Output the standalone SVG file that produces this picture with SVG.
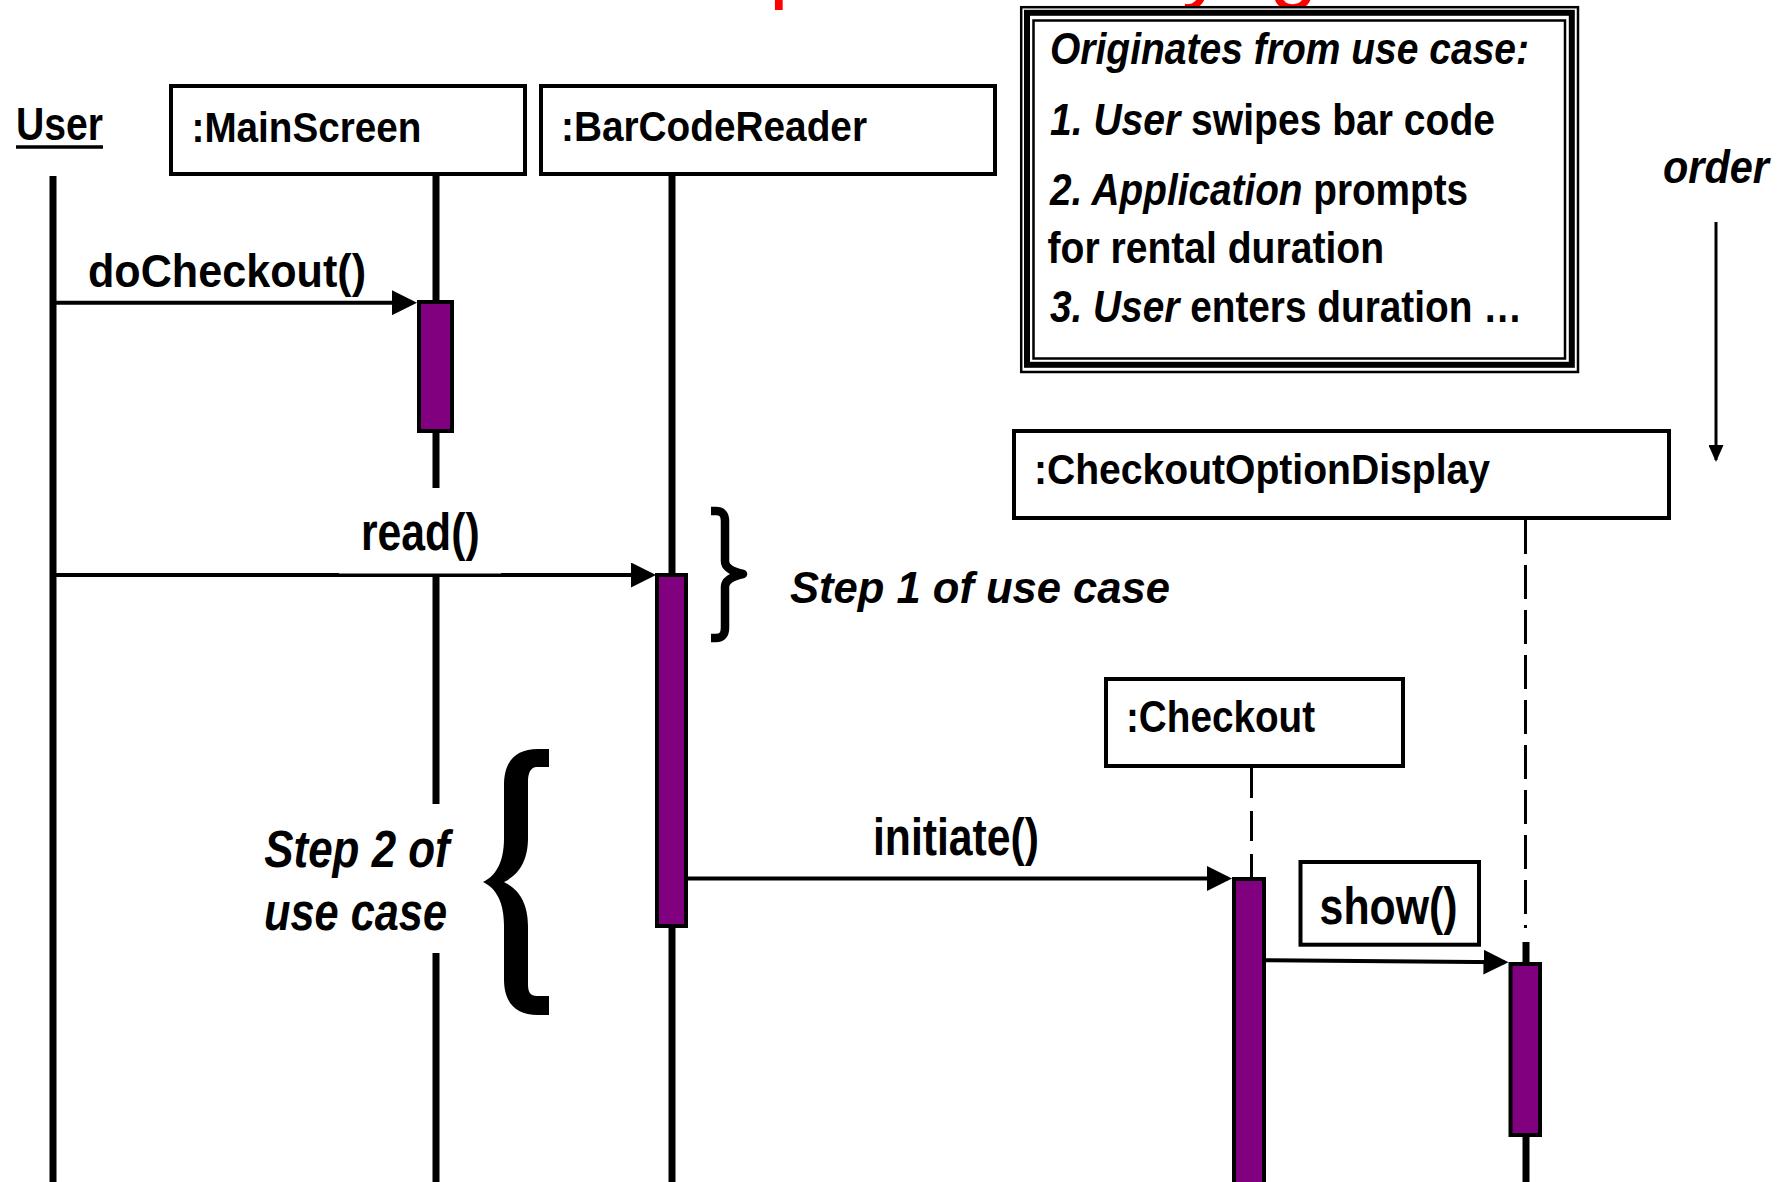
<svg xmlns="http://www.w3.org/2000/svg" width="1785" height="1182" viewBox="0 0 1785 1182">
  <style>
    .t{font-family:"Liberation Sans",Arial,Helvetica,sans-serif;font-weight:bold;fill:#000}
    .it{font-style:italic}
    .box{fill:#fff;stroke:#000;stroke-width:4}
    .life{stroke:#000;stroke-width:7;fill:none}
    .dash{stroke:#000;stroke-width:3;fill:none}
    .act{fill:#800080;stroke:#000;stroke-width:4}
    .msg{stroke:#000;stroke-width:4;fill:none;marker-end:url(#head)}
    .bg{fill:#fff;stroke:none}
  </style>
  <defs>
    <marker id="head" markerUnits="userSpaceOnUse" viewBox="0 0 25 25" markerWidth="25" markerHeight="25" refX="21" refY="12.5" orient="auto">
      <path d="M0,0 L25,12.5 L0,25 z" fill="#000"/>
    </marker>
    <marker id="headSm" markerUnits="userSpaceOnUse" viewBox="0 0 17 15" markerWidth="17" markerHeight="15" refX="15" refY="7.5" orient="auto">
      <path d="M0,0 L17,7.5 L0,15 z" fill="#000"/>
    </marker>
  </defs>

  <rect width="1785" height="1182" fill="#fff"/>

  <!-- slide title runs off the top edge: only its descenders remain in view -->
  <text x="769 1182 1269" y="-8.5" font-family="Liberation Sans, Arial, sans-serif" font-size="88" fill="#ff0000">pyg</text>

  <!-- actor -->
  <g id="user">
    <line class="life" x1="53" y1="176" x2="53" y2="1182"/>
    <text class="t" x="16" y="140" font-size="47" textLength="87" lengthAdjust="spacingAndGlyphs">User</text>
    <line x1="16" y1="147" x2="103" y2="147" stroke="#000" stroke-width="3.5"/>
  </g>

  <g id="mainScreen">
    <line class="life" x1="436" y1="176" x2="436" y2="1182"/>
    <rect class="box" x="171" y="86" width="354" height="88"/>
    <text class="t" x="191.5" y="141.5" font-size="43" textLength="230" lengthAdjust="spacingAndGlyphs">:MainScreen</text>
    <rect class="act" x="419" y="302" width="33" height="129"/>
  </g>

  <g id="barCodeReader">
    <line class="life" x1="672" y1="176" x2="672" y2="1182"/>
    <rect class="box" x="541" y="86" width="454" height="88"/>
    <text class="t" x="561" y="141" font-size="43" textLength="306" lengthAdjust="spacingAndGlyphs">:BarCodeReader</text>
    <rect class="act" x="657" y="575" width="29" height="351"/>
  </g>

  <g id="checkoutOptionDisplay">
    <line class="dash" x1="1525.5" y1="520" x2="1525.5" y2="928" stroke-dasharray="34 11"/>
    <line class="life" x1="1526" y1="942" x2="1526" y2="1182"/>
    <rect class="box" x="1014" y="431" width="655" height="87"/>
    <text class="t" x="1034" y="483.5" font-size="43" textLength="456" lengthAdjust="spacingAndGlyphs">:CheckoutOptionDisplay</text>
    <rect class="act" x="1510.5" y="964" width="29.5" height="171"/>
  </g>

  <g id="checkout">
    <line class="dash" x1="1251.5" y1="768" x2="1251.5" y2="878" stroke-dasharray="30 13"/>
    <rect class="box" x="1106" y="679" width="297" height="87"/>
    <text class="t" x="1126" y="731.7" font-size="44" textLength="189" lengthAdjust="spacingAndGlyphs">:Checkout</text>
    <rect class="act" x="1234" y="879" width="30" height="320"/>
  </g>

  <!-- use-case note with a thin / thick / thin frame -->
  <g id="useCaseNote">
    <rect x="1021.2" y="7.2" width="556.8" height="364.8" fill="#fff" stroke="#000" stroke-width="2.5"/>
    <rect x="1027" y="12.8" width="544.8" height="352" fill="none" stroke="#000" stroke-width="6"/>
    <rect x="1033.5" y="20.5" width="531.5" height="338" fill="none" stroke="#000" stroke-width="2.5"/>
    <text class="t it" x="1050" y="64" font-size="45" textLength="479" lengthAdjust="spacingAndGlyphs">Originates from use case:</text>
    <!-- mixed-style lines: narrowed with a horizontal scale so the runs keep their natural spacing -->
    <text class="t" transform="translate(1050 135) scale(0.868 1)" font-size="45"><tspan class="it">1. User</tspan> swipes bar code</text>
    <text class="t" transform="translate(1050 205) scale(0.861 1)" font-size="45"><tspan class="it">2. Application</tspan> prompts</text>
    <text class="t" x="1047.5" y="263" font-size="45" textLength="336.5" lengthAdjust="spacingAndGlyphs">for rental duration</text>
    <text class="t" transform="translate(1050 321.7) scale(0.862 1)" font-size="45"><tspan class="it">3. User</tspan> enters duration …</text>
  </g>

  <!-- time axis -->
  <g id="order">
    <text class="t it" x="1663" y="183.3" font-size="46" textLength="106" lengthAdjust="spacingAndGlyphs">order</text>
    <line x1="1716" y1="222" x2="1716" y2="460" stroke="#000" stroke-width="3" marker-end="url(#headSm)"/>
  </g>

  <!-- messages -->
  <g id="connectors">
    <line class="msg" x1="53" y1="302.7" x2="413" y2="302.7"/>
    <text class="t" x="88" y="286.7" font-size="46" textLength="278" lengthAdjust="spacingAndGlyphs">doCheckout()</text>

    <line class="msg" x1="53" y1="575" x2="652" y2="575"/>
    <rect class="bg" x="339" y="488" width="162" height="85.5"/>
    <text class="t" x="361" y="550" font-size="51" textLength="118.6" lengthAdjust="spacingAndGlyphs">read()</text>

    <line class="msg" x1="688" y1="878.5" x2="1228" y2="878.5"/>
    <text class="t" x="873" y="854.6" font-size="51" textLength="166" lengthAdjust="spacingAndGlyphs">initiate()</text>

    <line class="msg" x1="1266" y1="960.3" x2="1504.5" y2="962.3"/>
    <rect class="box" x="1300.5" y="862" width="178.5" height="82.7"/>
    <text class="t" x="1319.6" y="924" font-size="52" textLength="138" lengthAdjust="spacingAndGlyphs">show()</text>
  </g>

  <!-- step annotations -->
  <g id="step1">
    <path d="M711 511 L716 511 Q725 511 725 521 L725 561 Q725 570 743 574 Q725 578 725 587 L725 628 Q725 638 716 638 L711 638" fill="none" stroke="#000" stroke-width="8.5" stroke-linejoin="round"/>
    <text class="t it" x="790" y="603.3" font-size="45" textLength="380" lengthAdjust="spacingAndGlyphs">Step 1 of use case</text>
  </g>

  <g id="step2">
    <rect class="bg" x="258" y="804" width="196" height="149"/>
    <text class="t it" x="264.3" y="867" font-size="51" textLength="185.4" lengthAdjust="spacingAndGlyphs">Step 2 of</text>
    <text class="t it" x="264" y="930" font-size="51" textLength="183" lengthAdjust="spacingAndGlyphs">use case</text>
    <path d="M549 749 L538 749 C515 749 504 762 504 785 L504 838 C504 862 496 876 483 882 C496 888 504 902 504 926 L504 979 C504 1002 515 1015 538 1015 L549 1015 L549 996 L537 996 C530 996 528 992 528 984 L528 926 C528 902 518 889 504 882 C518 875 528 862 528 838 L528 782 C528 774 530 767 537 767 L549 767 Z" fill="#000"/>
  </g>
</svg>
